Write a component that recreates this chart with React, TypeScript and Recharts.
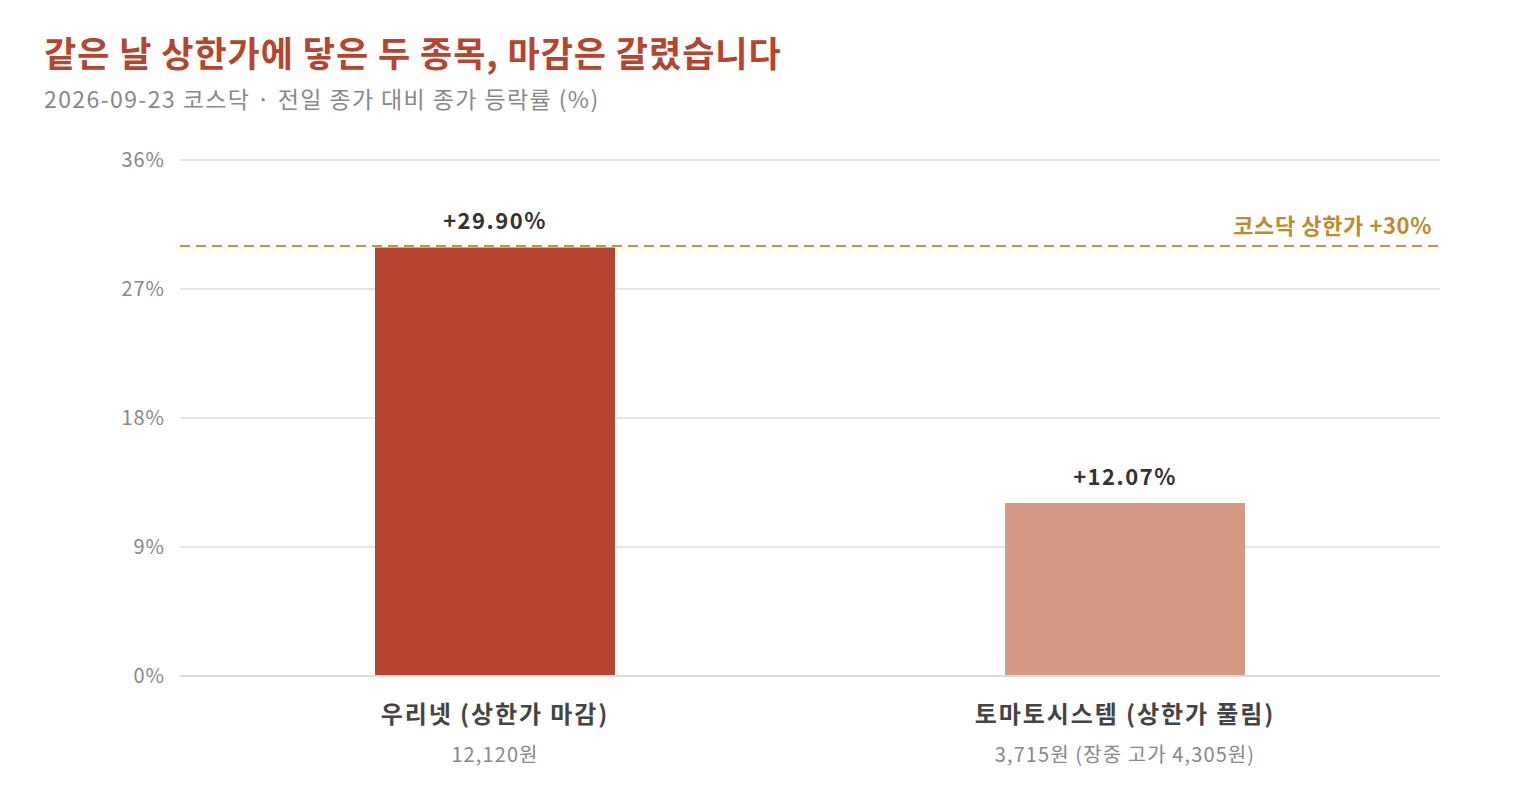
import React from "react";
import { BarChart, Bar, XAxis, YAxis, CartesianGrid, ReferenceLine, LabelList, Cell } from "recharts";

const categories = ["우리넷 (상한가 마감)", "토마토시스템 (상한가 풀림)"];
const subLabels = ["12,120원", "3,715원 (장중 고가 4,305원)"];
const changes = [29.9, 12.07];
const valueLabels = ["+29.90%", "+12.07%"];
const barColors = ["#b5452f", "#d49a85"];
const yTicks = [0, 9, 18, 27, 36];
const limitValue = 30;
const limitLabel = "코스닥 상한가 +30%";

const data = categories.map((name, i) => ({ name, sub: subLabels[i], value: changes[i], label: valueLabels[i] }));

const FONT = "'Noto Sans CJK KR', 'Noto Sans', sans-serif";

const XTick = (props: any) => {
  const { x, y, payload, index } = props;
  return (
    <g transform={`translate(${x},${y})`}>
      <text x={0} y={39} textAnchor="middle" fontSize={24} fontWeight={700} fill="#444" fontFamily={FONT} letterSpacing={1.9}>
        {payload.value}
      </text>
      <text x={0} y={78} textAnchor="middle" fontSize={20} fill="#888" fontFamily={FONT} letterSpacing={1.1}>
        {subLabels[index]}
      </text>
    </g>
  );
};

const RefLabel = (props: any) => {
  const { viewBox } = props;
  return (
    <text x={viewBox.x + viewBox.width - 8} y={viewBox.y - 12} textAnchor="end" fontSize={22} fontWeight={700} fill="#c08a2e" fontFamily={FONT} letterSpacing={0.6}>
      {limitLabel}
    </text>
  );
};

export default function App() {
  return (
    <div style={{ position: "absolute", left: 0, top: 0, width: 1520, height: 800, background: "#fff", fontFamily: FONT }}>
      <div style={{ position: "absolute", left: 44, top: 30, fontSize: 35, fontWeight: 700, color: "#b5452f", whiteSpace: "nowrap", lineHeight: "44px", letterSpacing: 0.95 }}>
        같은 날 상한가에 닿은 두 종목, 마감은 갈렸습니다
      </div>
      <div style={{ position: "absolute", left: 44, top: 83, fontSize: 23, color: "#888", whiteSpace: "nowrap", lineHeight: "30px", letterSpacing: 1.4 }}>
        2026-09-23 코스닥 · 전일 종가 대비 종가 등락률 (%)
      </div>
      <BarChart width={1520} height={800} data={data} margin={{ top: 160, right: 80, bottom: 0, left: 0 }} barSize={240}>
        <CartesianGrid vertical={false} stroke="#dddddd" strokeWidth={1.5} />
        <XAxis dataKey="name" tick={<XTick />} tickLine={false} axisLine={{ stroke: "#dddddd", strokeWidth: 2 }} height={124} interval={0} />
        <YAxis
          domain={[0, 36]}
          ticks={yTicks}
          width={180}
          tickLine={false}
          axisLine={false}
          tickFormatter={(v: number) => `${v}%`}
          tick={{ fontSize: 20, fill: "#888", fontFamily: FONT, letterSpacing: 1 }}
          tickMargin={9}
        />
        <ReferenceLine y={limitValue} stroke="#c8952e" strokeWidth={2} strokeDasharray="10 6" label={<RefLabel />} ifOverflow="visible" />
        <Bar dataKey="value" isAnimationActive={false}>
          {data.map((d, i) => (
            <Cell key={i} fill={barColors[i]} />
          ))}
          <LabelList dataKey="label" position="top" offset={18} style={{ fontSize: 22, fontWeight: 700, fill: "#333", fontFamily: FONT, letterSpacing: 1.5 }} />
        </Bar>
      </BarChart>
    </div>
  );
}
